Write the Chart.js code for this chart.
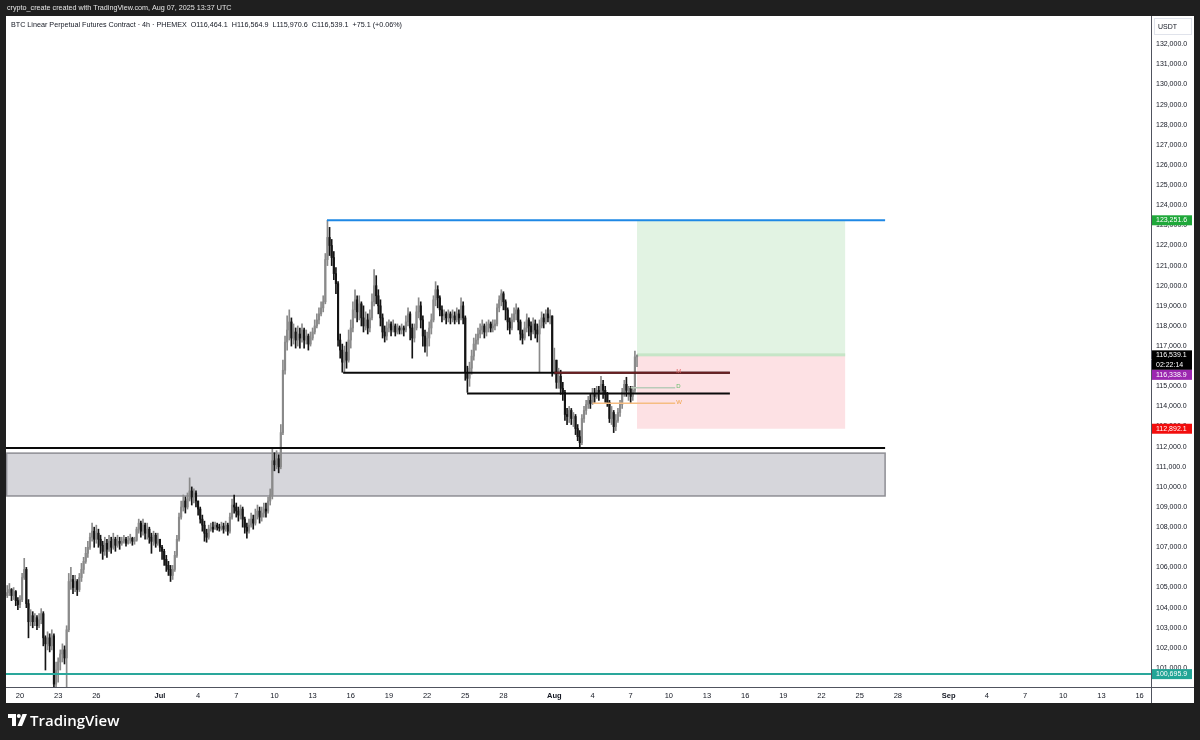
<!DOCTYPE html>
<html>
<head>
<meta charset="utf-8">
<script src="https://cdn.jsdelivr.net/npm/chart.js@4.4.1/dist/chart.umd.min.js"></script>
<style>
  html, body { margin: 0; padding: 0; background: #1f1f1f; }
  canvas { display: block; }
</style>
</head>
<body>
<canvas id="chart" width="1200" height="740"></canvas>
<script>
// BTC linear perpetual (PHEMEX), 4h candles from Jun 19 00:00 UTC to Aug 7 12:00 UTC.
// Day numbers count from Jun 20 00:00 UTC.
const firstCandleDay = -1;
const candleHours = 4;
const firstOpen = 104600;

// one row per day, six 4h candles each
const closes = [
  104750, 104900, 104600, 104800, 104350, 104150,
  104400, 105500, 105900, 104200, 103300, 103600,
  103300, 103500, 103100, 103400, 103700, 102500,
  102200, 102500, 102100, 102600, 100200, 100900,
  101300, 101700, 101900, 101500, 102900, 105300,
  105400, 105000, 105300, 104900, 105500, 105900,
  106300, 106700, 107000, 107500, 107800, 107400,
  107700, 107400, 107100, 106800, 107200, 106900,
  107300, 107000, 107400, 107100, 107300, 107200,
  107300, 107400, 107200, 107350, 107450, 107300,
  107350, 107900, 108200, 107800, 108100, 107700,
  107900, 107500, 107300, 107600, 107200, 107400,
  107000, 106800, 106400, 106100, 105900, 105600, // Jul 1
  105900, 106600, 107400, 108500, 109000, 109300,
  109000, 109400, 109800, 109500, 109700, 109300,
  108900, 108400, 108100, 107700, 107500, 107900,
  108000, 107900, 108100, 108000, 107950, 108050,
  107900, 108100, 107800, 108500, 109100, 109000,
  108800, 108600, 108900, 108400, 108000, 107800,
  108100, 108400, 108200, 108600, 108800, 108500,
  108700, 108900, 108800, 109300, 109600, 111300,
  111100, 111400, 111000, 112700, 115800, 117200,
  117800, 118200, 117400, 117700, 117300, 117600,
  117400, 117800, 117300, 117500, 117100, 117400,
  117700, 118000, 118300, 118600, 118900, 119200,
  121300, 122400, 122000, 121400, 120600, 120100, // Jul 14
  117300, 116800, 116200, 116700, 116300, 117300,
  117900, 118800, 119300, 118700, 119100, 118400,
  118000, 118300, 117900, 118400, 119200, 120000,
  119500, 119000, 118400, 117700, 117500, 117900,
  118100, 117800, 118000, 117700, 117900, 117800,
  117900, 117800, 118200, 118600, 117900, 117400,
  117900, 118700, 119000, 118300, 117500, 117000,
  117400, 117900, 118300, 119300, 119800, 119400,
  118800, 118500, 118600, 118400, 118600, 118400,
  118500, 118300, 118600, 118400, 119000, 118400,
  115700, 115400, 115900, 116500, 117100, 117300, // Jul 25
  117600, 117800, 118000, 117700, 117900, 118100,
  117900, 118000, 118100, 118900, 119300, 119600,
  119200, 118800, 118200, 117900, 118300, 118600,
  118800, 118200, 117600, 117400, 117900, 118300,
  118000, 117700, 118100, 117800, 117600, 118000,
  118400, 118200, 118600, 118400, 118500, 115700,
  116300, 115200, 115500, 114900, 114700, 113600, // Aug 1
  113500, 113800, 113400, 113500, 112900, 112500,
  112200, 113400, 113800, 114100, 114300, 114150,
  114600, 114500, 114800, 114700, 115100, 114800,
  114600, 114200, 113400, 113700, 113000, 113300,
  113700, 114100, 114700, 115100, 114800, 114900,
  114500, 114800, 116464.1, 116539.1
];
const highs = [
  105100, 105200, 104950, 105000, 104850, 104500,
  104600, 105700, 106450, 106000, 104400, 103900,
  103800, 103700, 103600, 103700, 103950, 103800,
  102600, 102800, 102700, 102900, 102700, 101300,
  101500, 101900, 102200, 102100, 103100, 105700,
  106000, 105600, 105600, 105400, 105700, 106200,
  106500, 107000, 107300, 107700, 108200, 108000,
  108100, 107900, 107600, 107300, 107500, 107400,
  107600, 107500, 107700, 107500, 107600, 107500,
  107500, 107600, 107500, 107550, 107650, 107500,
  107500, 108000, 108400, 108300, 108400, 108200,
  108200, 108000, 107700, 107800, 107700, 107700,
  107400, 107100, 106900, 106600, 106300, 106100,
  106100, 106800, 107600, 108700, 109300, 109600,
  109500, 109700, 110450, 110000, 109900, 109800,
  109300, 109000, 108600, 108300, 107900, 108100,
  108200, 108250, 108250, 108200, 108150, 108250,
  108200, 108300, 108200, 108700, 109400, 109600,
  109200, 109000, 109100, 109000, 108500, 108200,
  108400, 108700, 108600, 108900, 109100, 109000,
  109000, 109200, 109200, 109500, 109900, 111900,
  111700, 111800, 111600, 113100, 116300, 117500,
  118500, 118800, 118400, 118100, 117900, 118000,
  117900, 118100, 117900, 117800, 117600, 117700,
  117900, 118300, 118600, 118900, 119200, 119500,
  121600, 123251.6, 122900, 122300, 121700, 120900,
  120200, 117600, 117100, 117000, 117200, 117800,
  118300, 119200, 119800, 119500, 119500, 119200,
  119000, 118700, 118600, 118800, 119600, 120800,
  120500, 119800, 119300, 118600, 118000, 118200,
  118300, 118200, 118300, 118100, 118100, 118000,
  118100, 118000, 118500, 118900, 118700, 118100,
  118100, 119000, 119400, 119200, 118500, 117800,
  117700, 118200, 118600, 119500, 120200, 120000,
  119500, 119000, 118800, 118700, 118800, 118700,
  118800, 118700, 118900, 118800, 119400, 119200,
  118500, 116000, 116200, 116800, 117400, 117600,
  117900, 118100, 118300, 118100, 118200, 118300,
  118200, 118300, 118300, 119100, 119500, 119800,
  119700, 119300, 118900, 118400, 118600, 118900,
  119100, 118900, 118300, 117800, 118200, 118600,
  118400, 118200, 118400, 118300, 118100, 118300,
  118700, 118600, 118800, 118900, 118800, 118500,
  116900, 116300, 115900, 115800, 115200, 114800,
  113900, 114000, 113900, 113700, 113600, 113100,
  112800, 113600, 114000, 114300, 114500, 114600,
  114900, 114900, 115000, 115000, 115500, 115300,
  115000, 114700, 114300, 114000, 113800, 113600,
  113900, 114300, 114900, 115300, 115450, 115000,
  115000, 115000, 116750, 116564.9
];
const lows = [
  104500, 104600, 104350, 104400, 104100, 103900,
  104000, 104300, 105400, 104000, 102500, 103100,
  103000, 103100, 102900, 103000, 103200, 102100,
  100900, 101900, 101800, 101900, 99800, 98200,
  100300, 100900, 101300, 101200, 99700, 102800,
  104900, 104700, 104800, 104600, 104800, 105300,
  105700, 106200, 106500, 106900, 107300, 107000,
  107200, 107000, 106700, 106400, 106600, 106500,
  106800, 106700, 106900, 106800, 107000, 106900,
  107100, 107200, 107050, 107150, 107200, 107100,
  107150, 107300, 107700, 107500, 107600, 107400,
  107400, 107200, 106700, 107100, 107000, 107100,
  106800, 106400, 106100, 105800, 105600, 105300,
  105400, 105800, 106500, 107300, 108400, 108800,
  108700, 108900, 109300, 109100, 109200, 109000,
  108600, 108200, 107800, 107300, 107250, 107400,
  107800, 107750, 107900, 107850, 107800, 107850,
  107700, 107800, 107600, 107700, 108400, 108700,
  108500, 108300, 108400, 108000, 107700, 107450,
  107700, 108000, 107900, 108100, 108400, 108200,
  108300, 108500, 108500, 108700, 109100, 109400,
  110800, 110900, 110700, 110900, 112600, 115600,
  116800, 117300, 117000, 117100, 116900, 117000,
  116900, 117200, 116900, 117100, 116800, 117000,
  117300, 117600, 117900, 118100, 118500, 118700,
  119100, 121000, 121500, 121000, 120300, 119600,
  117000, 116400, 115700, 115700, 115900, 116200,
  116900, 117700, 118400, 118200, 118300, 118000,
  117700, 117800, 117600, 117700, 118300, 119000,
  119100, 118600, 118000, 117400, 117200, 117300,
  117700, 117500, 117700, 117500, 117600, 117600,
  117600, 117500, 117700, 118000, 117300, 116400,
  117200, 117800, 118400, 117900, 117000, 116700,
  116500, 117000, 117600, 118200, 119000, 118900,
  118500, 118200, 118300, 118100, 118200, 118100,
  118200, 118100, 118200, 118100, 118300, 118100,
  115300, 114700, 115000, 115600, 116300, 116800,
  117100, 117400, 117600, 117400, 117500, 117700,
  117700, 117700, 117800, 118000, 118700, 119000,
  118800, 118300, 117800, 117600, 117800, 118200,
  118300, 117800, 117300, 117100, 117300, 117700,
  117500, 117300, 117600, 117400, 117200, 115700,
  117900, 117900, 118100, 118200, 118100, 115500,
  115600, 114900, 114900, 114600, 114300, 113300,
  113100, 113200, 113100, 113000, 112600, 112300,
  111900, 112100, 113200, 113600, 113900, 113900,
  114100, 114200, 114400, 114300, 114600, 114400,
  114200, 114000, 113200, 113100, 112700, 112800,
  113200, 113500, 113900, 114500, 114500, 114300,
  114200, 114300, 114700, 115970.6
];

// bottom axis: day number and its label
const tickDays = [0, 3, 6, 11, 14, 17, 20, 23, 26, 29, 32, 35, 38, 42, 45, 48, 51, 54, 57, 60, 63, 66, 69, 73, 76, 79, 82, 85, 88];
const tickLabels = ['20', '23', '26', 'Jul', '4', '7', '10', '13', '16', '19', '22', '25', '28', 'Aug', '4', '7', '10', '13', '16', '19', '22', '25', '28', 'Sep', '4', '7', '10', '13', '16'];
const monthLabels = ['Jul', 'Aug', 'Sep'];
const priceTicks = [101000, 102000, 103000, 104000, 105000, 106000, 107000, 108000, 109000, 110000,
  111000, 112000, 113000, 114000, 115000, 116000, 117000, 118000, 119000, 120000,
  121000, 122000, 123000, 124000, 125000, 126000, 127000, 128000, 129000, 130000, 131000, 132000];

// drawings on the chart
const athHigh = 123251.6;
const athFrom = 24.13, drawEnd = 68.0;
const rangeHigh = 115680, rangeHighFrom = 25.4;
const rangeLow = 114640, rangeLowFrom = 35.14;
const levelsEnd = 55.8;
const supportLine = 111930;
const zoneTop = 111680, zoneBottom = 109550;
const bottomLevel = 100695.9;
const entryPrice = 116539.1, targetPrice = 123251.6, stopPrice = 112892.1;
const positionFrom = 48.5, positionTo = 64.86;
const monthlyOpen = 115680, monthlyFrom = 42.0;
const weeklyOpen = 114155, weeklyFrom = 45.0;
const dailyOpen = 114930, dailyFrom = 48.0;
const openLinesEnd = 51.5;
const maValue = 116338.9;

const FONT = '"Liberation Sans", Arial, sans-serif';
const UP = '#8a8a8a', DOWN = '#141414';

const candleDays = closes.map((c, i) => firstCandleDay + i * candleHours / 24);
const opens = closes.map((c, i) => i === 0 ? firstOpen : closes[i - 1]);
const candleColors = closes.map((c, i) => c >= opens[i] ? UP : DOWN);

const fmt = v => v.toLocaleString('en-US', { minimumFractionDigits: 1, maximumFractionDigits: 1 });

const frame = {
  id: 'frame',
  beforeDraw(chart) {
    const c = chart.ctx;
    c.save();
    c.fillStyle = '#1f1f1f';
    c.fillRect(0, 0, 1200, 740);
    c.fillStyle = '#ffffff';
    c.fillRect(6, 16, 1188, 687);
    c.fillStyle = '#e6e6e6';
    c.font = '7.2px ' + FONT;
    c.textBaseline = 'middle';
    c.fillText('crypto_create created with TradingView.com, Aug 07, 2025 13:37 UTC', 7, 8.5);
    c.restore();
  },
  beforeDatasetsDraw(chart) {
    const c = chart.ctx, x = chart.scales.x, y = chart.scales.y, a = chart.chartArea;
    c.save();
    c.beginPath(); c.rect(a.left, a.top, a.right - a.left, a.bottom - a.top); c.clip();
    // grey zone
    const zx0 = x.getPixelForValue(-1.05), zx1 = x.getPixelForValue(drawEnd);
    const zy0 = y.getPixelForValue(zoneTop), zy1 = y.getPixelForValue(zoneBottom);
    c.fillStyle = '#d6d6db';
    c.fillRect(zx0, zy0, zx1 - zx0, zy1 - zy0);
    c.strokeStyle = '#8e8e94'; c.lineWidth = 1.5;
    c.strokeRect(zx0, zy0, zx1 - zx0, zy1 - zy0);
    // long position
    const px0 = x.getPixelForValue(positionFrom), px1 = x.getPixelForValue(positionTo);
    const yt = y.getPixelForValue(targetPrice), ye = y.getPixelForValue(entryPrice), ys = y.getPixelForValue(stopPrice);
    c.fillStyle = '#e2f3e3';
    c.fillRect(px0, yt, px1 - px0, ye - yt);
    c.fillStyle = '#fde1e4';
    c.fillRect(px0, ye, px1 - px0, ys - ye);
    c.fillStyle = '#c6e5c7';
    c.fillRect(px0, ye - 2, px1 - px0, 3);
    c.restore();
  },
  afterDatasetsDraw(chart) {
    const c = chart.ctx, x = chart.scales.x, y = chart.scales.y, a = chart.chartArea;
    const hline = (price, d0, d1, color, w) => {
      const py = y.getPixelForValue(price);
      c.strokeStyle = color; c.lineWidth = w;
      c.beginPath();
      c.moveTo(x.getPixelForValue(d0), py);
      c.lineTo(x.getPixelForValue(d1), py);
      c.stroke();
    };
    c.save();
    c.beginPath(); c.rect(a.left, a.top, a.right - a.left, a.bottom - a.top); c.clip();
    hline(athHigh, athFrom, drawEnd, '#1e88e5', 2);
    hline(rangeHigh, rangeHighFrom, levelsEnd, '#0a0a0a', 2);
    hline(rangeLow, rangeLowFrom, levelsEnd, '#0a0a0a', 2);
    hline(supportLine, -2, drawEnd, '#0a0a0a', 2);
    hline(bottomLevel, -2, 95, '#2aa79b', 2);
    hline(monthlyOpen, monthlyFrom, levelsEnd, '#6b1f22', 2);
    hline(weeklyOpen, weeklyFrom, openLinesEnd, '#f6bd82', 1.5);
    hline(dailyOpen, dailyFrom, openLinesEnd, '#b9cbb9', 1.5);
    c.font = '6px ' + FONT; c.textBaseline = 'middle'; c.textAlign = 'left';
    const lx = x.getPixelForValue(openLinesEnd) + 1;
    c.fillStyle = '#e57373'; c.fillText('M', lx, y.getPixelForValue(monthlyOpen) - 1);
    c.fillStyle = '#66bb6a'; c.fillText('D', lx, y.getPixelForValue(dailyOpen) - 1);
    c.fillStyle = '#f0a040'; c.fillText('W', lx, y.getPixelForValue(weeklyOpen) - 1);
    c.restore();
  },
  afterDraw(chart) {
    const c = chart.ctx, y = chart.scales.y, a = chart.chartArea;
    c.save();
    // legend line
    c.fillStyle = '#131722';
    c.font = '7.2px ' + FONT;
    c.textBaseline = 'middle';
    c.fillText('BTC Linear Perpetual Futures Contract \u00b7 4h \u00b7 PHEMEX  O116,464.1  H116,564.9  L115,970.6  C116,539.1  +75.1 (+0.06%)', 11, 25);
    // axis borders
    c.strokeStyle = '#50535e'; c.lineWidth = 1;
    c.beginPath();
    c.moveTo(a.right + 0.5, 16); c.lineTo(a.right + 0.5, 703);
    c.moveTo(6, a.bottom + 0.5); c.lineTo(1194, a.bottom + 0.5);
    c.stroke();
    // currency box
    c.strokeStyle = '#e0e3eb';
    c.strokeRect(1154.5, 18.5, 37, 16);
    c.fillStyle = '#131722';
    c.font = '7px ' + FONT;
    c.fillText('USDT', 1158, 27);
    // price tags
    const tags = [
      [athHigh, [fmt(athHigh)], '#1fa83a'],
      [entryPrice, [fmt(entryPrice), '02:22:14'], '#000000'],
      [maValue, [fmt(maValue)], '#9c27b0'],
      [stopPrice, [fmt(stopPrice)], '#f20d0d'],
      [bottomLevel, [fmt(bottomLevel)], '#22a596']
    ];
    let prevBottom = -100;
    tags.forEach(([price, lines, bg]) => {
      let cy = Math.max(y.getPixelForValue(price), prevBottom + 5);
      const h = lines.length * 9.5 + 0.5;
      c.fillStyle = bg;
      c.fillRect(1152, cy - 5, 40, h);
      c.fillStyle = '#ffffff';
      lines.forEach((t, k) => c.fillText(t, 1156, cy + k * 9.5));
      prevBottom = cy - 5 + h;
    });
    // logo
    c.fillStyle = '#ffffff';
    c.fillRect(8, 714, 8, 4);
    c.fillRect(12, 714, 4, 12);
    c.beginPath(); c.arc(18.8, 716, 2, 0, Math.PI * 2); c.fill();
    c.beginPath();
    c.moveTo(22.5, 714); c.lineTo(27, 714); c.lineTo(22, 726); c.lineTo(17.5, 726);
    c.closePath(); c.fill();
    c.font = '600 15px "Open Sans", ' + FONT;
    c.textBaseline = 'alphabetic';
    c.fillText('TradingView', 30, 726);
    c.restore();
  }
};

new Chart(document.getElementById('chart'), {
  type: 'bar',
  data: {
    datasets: [
      {
        label: 'wicks',
        data: candleDays.map((d, i) => ({ x: d, y: [lows[i], highs[i]] })),
        backgroundColor: candleColors,
        barThickness: 1,
        grouped: false,
        clip: 0
      },
      {
        label: 'bodies',
        data: candleDays.map((d, i) => ({ x: d, y: [opens[i], closes[i]] })),
        backgroundColor: candleColors,
        barThickness: 1.5,
        minBarLength: 1,
        grouped: false,
        clip: 0
      }
    ]
  },
  options: {
    responsive: false,
    animation: false,
    devicePixelRatio: 1,
    layout: { padding: { left: 6, top: 16, right: 6, bottom: 37 } },
    plugins: { legend: { display: false }, tooltip: { enabled: false } },
    scales: {
      x: {
        type: 'linear',
        min: -1.1,
        max: 88.9,
        offset: false,
        grid: { display: false, drawTicks: false },
        border: { display: false },
        afterBuildTicks: s => { s.ticks = tickDays.map(v => ({ value: v })); },
        afterFit: s => { s.height = 16; },
        ticks: {
          autoSkip: false,
          maxRotation: 0,
          padding: 4,
          color: '#131722',
          font: ctx => ({ family: FONT, size: 7.5, weight: monthLabels.includes(tickLabels[ctx.index]) ? 'bold' : 'normal' }),
          callback: (v, i) => tickLabels[i]
        }
      },
      y: {
        position: 'right',
        min: 100056,
        max: 133405,
        grid: { display: false, drawTicks: false },
        border: { display: false },
        afterBuildTicks: s => { s.ticks = priceTicks.map(v => ({ value: v })); },
        afterFit: s => { s.width = 43; },
        ticks: {
          padding: 5,
          color: '#131722',
          font: { family: FONT, size: 7 },
          callback: v => fmt(v)
        }
      }
    }
  },
  plugins: [frame]
});
</script>
</body>
</html>
